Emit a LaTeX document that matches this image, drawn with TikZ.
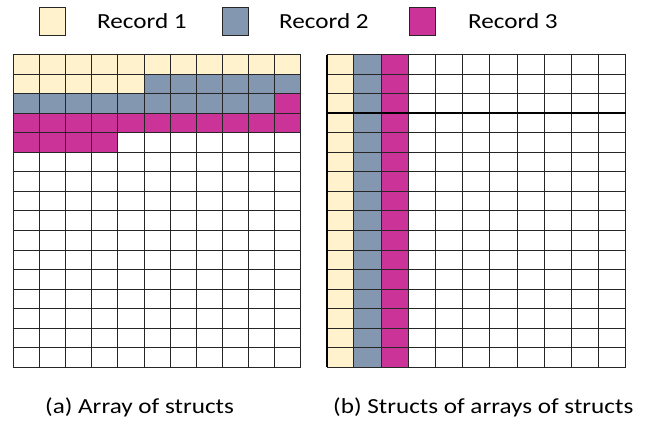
\documentclass[tikz,border=0pt]{standalone}
\usepackage{fontspec}
\usepackage{graphicx}
\setmainfont{Carlito}
\definecolor{recA}{HTML}{FFF2CC}
\definecolor{recB}{HTML}{8497B0}
\definecolor{recC}{HTML}{CC3399}
\newcommand{\wide}[1]{\scalebox{1.17}[1]{#1}}
\begin{document}
\begin{tikzpicture}[x=1pt,y=-1pt,
  gridline/.style={draw=black!85,line width=1pt},
  legbox/.style={draw=black!85,line width=0.9pt,minimum width=26pt,minimum height=28pt,inner sep=0pt},
  legtext/.style={anchor=base west,inner sep=0pt,font=\fontsize{21.5}{26}\selectfont},
  captext/.style={anchor=base west,inner sep=0pt,font=\fontsize{21.5}{26}\selectfont}]
\useasboundingbox (0,0) rectangle (648,423);
% legend
\node[legbox,fill=recA] (b1) at (52,21) {};
\node[legtext] (t1) at (97,28) {\wide{Record 1}};
\node[legbox,fill=recB] (b2) at (235.5,21) {};
\node[legtext] (t2) at (279,28) {\wide{Record 2}};
\node[legbox,fill=recC] (b3) at (422,21) {};
\node[legtext] (t3) at (468,28) {\wide{Record 3}};
% left grid: 11 x 16
\def\lx{13.3}\def\lw{26.15}\def\ty{54.5}\def\rh{19.55}
\fill[recA] (\lx,\ty) rectangle ({\lx+11*\lw},{\ty+\rh});
\fill[recA] (\lx,{\ty+\rh}) rectangle ({\lx+5*\lw},{\ty+2*\rh});
\fill[recB] ({\lx+5*\lw},{\ty+\rh}) rectangle ({\lx+11*\lw},{\ty+2*\rh});
\fill[recB] (\lx,{\ty+2*\rh}) rectangle ({\lx+10*\lw},{\ty+3*\rh});
\fill[recC] ({\lx+10*\lw},{\ty+2*\rh}) rectangle ({\lx+11*\lw},{\ty+3*\rh});
\fill[recC] (\lx,{\ty+3*\rh}) rectangle ({\lx+11*\lw},{\ty+4*\rh});
\fill[recC] (\lx,{\ty+4*\rh}) rectangle ({\lx+4*\lw},{\ty+5*\rh});
\foreach \i in {0,...,11} \draw[gridline] ({\lx+\i*\lw},\ty) -- ({\lx+\i*\lw},{\ty+16*\rh});
\foreach \j in {0,...,16} \draw[gridline] (\lx,{\ty+\j*\rh}) -- ({\lx+11*\lw},{\ty+\j*\rh});
% right grid
\def\rx{326.7}\def\rw{27.2}
\fill[recA] (\rx,\ty) rectangle ({\rx+\rw},{\ty+16*\rh});
\fill[recB] ({\rx+\rw},\ty) rectangle ({\rx+2*\rw},{\ty+16*\rh});
\fill[recC] ({\rx+2*\rw},\ty) rectangle ({\rx+3*\rw},{\ty+16*\rh});
\foreach \i in {0,...,11} \draw[gridline] ({\rx+\i*\rw},\ty) -- ({\rx+\i*\rw},{\ty+16*\rh});
\foreach \j in {0,...,16} \draw[gridline] (\rx,{\ty+\j*\rh}) -- ({\rx+11*\rw},{\ty+\j*\rh});
\draw[black,line width=1.8pt] (\rx,\ty) -- (\rx,{\ty+16*\rh});
\draw[black,line width=1.8pt] (\rx,{\ty+3*\rh}) -- ({\rx+11*\rw},{\ty+3*\rh});
% captions
\node[captext] (ca) at (45,413) {\wide{(a) Array of structs}};
\node[captext] (cb) at (333,413) {\wide{(b) Structs of arrays of structs}};
\end{tikzpicture}
\end{document}
